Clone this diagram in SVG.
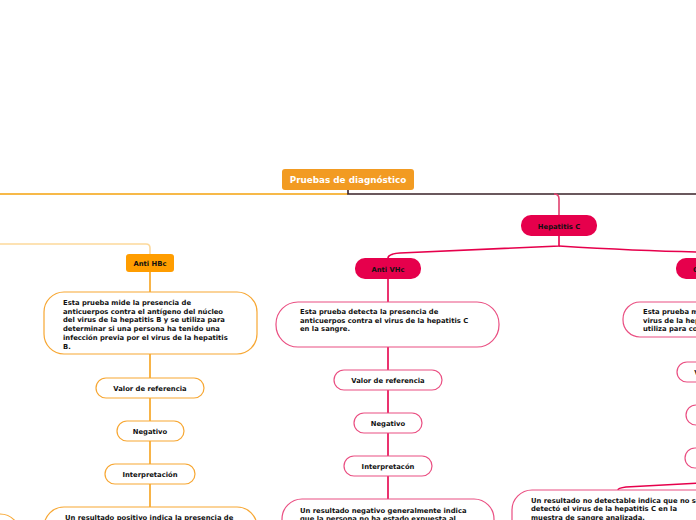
<svg xmlns="http://www.w3.org/2000/svg" width="696" height="520" viewBox="0 0 696 520">
<style>
text{font-family:"DejaVu Sans","Verdana",sans-serif;font-weight:bold;font-size:6.8px;fill:#111}
.c{text-anchor:middle}
.t{fill:#fff;font-size:8.8px}
.ob{fill:#fff;stroke:#f7a733;stroke-width:1.2}
.pb{fill:#fff;stroke:#ea4f82;stroke-width:1.2}
.on{fill:#ff9d00}
.pn{fill:#e6004c}
.lo{fill:none;stroke:#f7a21b;stroke-width:1.6}
.lp{fill:none;stroke:#e6004c;stroke-width:1.6}
</style>
<rect width="696" height="520" fill="#fff"/>
<g id="connectors">
<path d="M0,194 H348" fill="none" stroke="#f4a20c" stroke-width="1.6"/>
<path d="M348,190 V194 H696" fill="none" stroke="#3a2228" stroke-width="1.6"/>
<path d="M554,194 Q559,194 559,199 V215" fill="none" stroke="#e0406e" stroke-width="1.6"/>
<path d="M0,244 H146 Q150,244 150,248 V254" fill="none" stroke="#fdd99b" stroke-width="1.6"/>
<path class="lp" d="M559,236 V246 Q470,250 400,253 Q388,254 388,258"/>
<path class="lp" d="M559,246 Q640,251 700,252 Q713,253 713,258"/>
<path class="lo" d="M150,272 V292 M150,354 V378 M150,398 V421 M150,441 V464 M150,484 V507"/>
<path class="lp" d="M388,279 V302 M388,347 V370 M388,390 V413 M388,433 V456 M388,476 V499"/>
<path class="lp" d="M731,468 V476 Q731,482 700,483 L626,487 Q618,488 618,490"/>
</g>
<g id="root"><rect x="282" y="169" width="132" height="21" rx="3" fill="#f29b22"/><text class="c t" x="348" y="183">Pruebas de diagnóstico</text></g>
<g id="hepc"><rect class="pn" x="521" y="215" width="76" height="21" rx="10"/><text class="c" x="559" y="228.5">Hepatitis C</text></g>
<g id="antihbc"><rect class="on" x="126" y="254" width="48" height="18" rx="3"/><text class="c" x="150" y="265.5">Anti HBc</text></g>
<g id="hbc-desc"><rect class="ob" x="44" y="292" width="213" height="62" rx="20"/>
<text x="63" y="305">Esta prueba mide la presencia de</text>
<text x="63" y="313.7">anticuerpos contra el antígeno del núcleo</text>
<text x="63" y="322.4">del virus de la hepatitis B y se utiliza para</text>
<text x="63" y="331.1">determinar si una persona ha tenido una</text>
<text x="63" y="339.8">infección previa por el virus de la hepatitis</text>
<text x="63" y="348.5">B.</text></g>
<g id="hbc-valor"><rect class="ob" x="96" y="378" width="108" height="20" rx="10"/><text class="c" x="150" y="390.5">Valor de referencia</text></g>
<g id="hbc-neg"><rect class="ob" x="117" y="421" width="67" height="20" rx="10"/><text class="c" x="150" y="433.5">Negativo</text></g>
<g id="hbc-int"><rect class="ob" x="105" y="464" width="90" height="20" rx="10"/><text class="c" x="150" y="476.5">Interpretación</text></g>
<g id="hbc-res"><rect class="ob" x="44" y="507" width="213" height="60" rx="20"/><text x="65" y="519.5">Un resultado positivo indica la presencia de</text></g>
<g id="left-off"><rect class="ob" x="-200" y="514" width="220" height="60" rx="20"/></g>
<g id="antivhc"><rect class="pn" x="355" y="258" width="66" height="21" rx="10"/><text class="c" x="388" y="271.5">Anti VHc</text></g>
<g id="vhc-desc"><rect class="pb" x="276" y="302" width="223" height="45" rx="22"/>
<text x="300" y="314">Esta prueba detecta la presencia de</text>
<text x="300" y="322.7">anticuerpos contra el virus de la hepatitis C</text>
<text x="300" y="331.4">en la sangre.</text></g>
<g id="vhc-valor"><rect class="pb" x="334" y="370" width="108" height="20" rx="10"/><text class="c" x="388" y="382.5">Valor de referencia</text></g>
<g id="vhc-neg"><rect class="pb" x="354" y="413" width="68" height="20" rx="10"/><text class="c" x="388" y="425.5">Negativo</text></g>
<g id="vhc-int"><rect class="pb" x="344" y="456" width="88" height="20" rx="10"/><text class="c" x="388" y="468.5">Interpretacón</text></g>
<g id="vhc-res"><rect class="pb" x="282" y="499" width="212" height="60" rx="20"/>
<text x="300" y="512.5">Un resultado negativo generalmente indica</text>
<text x="300" y="521.2">que la persona no ha estado expuesta al</text></g>
<g id="carga"><rect class="pn" x="676" y="258" width="76" height="21" rx="10"/><text class="c" x="714" y="271.5">Carga viral</text></g>
<g id="carga-desc"><rect class="pb" x="623" y="302" width="200" height="35" rx="17"/>
<text x="643" y="314">Esta prueba mide la cantidad de</text>
<text x="643" y="322.5">virus de la hepatitis C en la sangre y se</text>
<text x="643" y="331">utiliza para controlar el tratamiento.</text></g>
<g id="carga-valor"><rect class="pb" x="677" y="362" width="108" height="20" rx="10"/><text class="c" x="731" y="374.5">Valor de referencia</text></g>
<g id="carga-nd"><rect class="pb" x="686" y="405" width="90" height="20" rx="10"/><text class="c" x="731" y="417.5">No detectable</text></g>
<g id="carga-int"><rect class="pb" x="685" y="448" width="92" height="20" rx="10"/><text class="c" x="731" y="460.5">Interpretación</text></g>
<g id="carga-res"><rect class="pb" x="512" y="490" width="212" height="60" rx="20"/>
<text x="531" y="502.5">Un resultado no detectable indica que no se</text>
<text x="531" y="511.2">detectó el virus de la hepatitis C en la</text>
<text x="531" y="519.9">muestra de sangre analizada.</text></g>
</svg>
